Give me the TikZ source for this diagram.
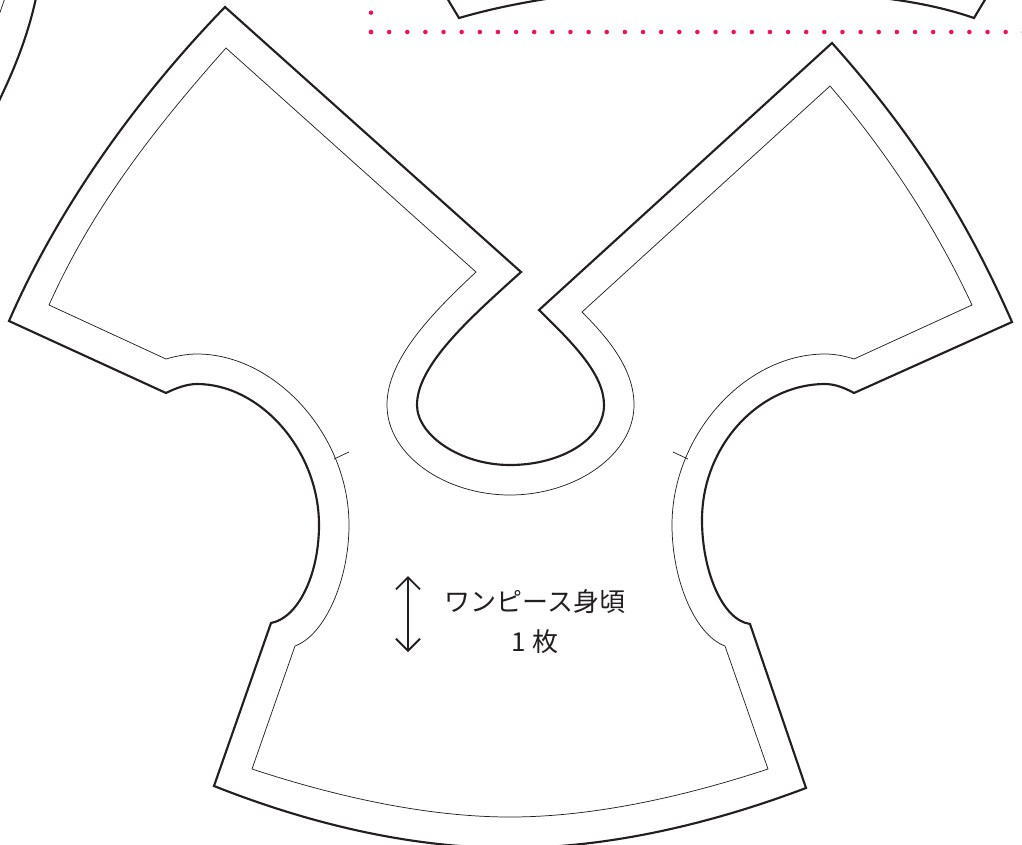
\documentclass[tikz,border=0pt]{standalone}
\usepackage{fontspec}
\newfontfamily\jpfont{Noto Sans CJK JP}
\usetikzlibrary{arrows.meta}
\definecolor{inkdark}{HTML}{231F20}
\definecolor{dotpink}{HTML}{EE0F5F}
\begin{document}
\begin{tikzpicture}[x=0.75pt,y=-0.75pt, every text node part/.style={align=center}]
        \tikzset{
          cutline/.style={draw=inkdark,line width=1.6pt,line join=miter},
          sewline/.style={draw=inkdark,line width=0.55pt},
          foldline/.style={draw=dotpink,line width=3.4pt,line cap=round},
          grainline/.style={draw=inkdark,line width=1.4pt,{Straight Barb[length=9pt,width=18pt]}-{Straight Barb[length=9pt,width=18pt]}},
          partlabel/.style={font=\jpfont\fontsize{19.5}{30}\selectfont,text=inkdark},
        }
        \useasboundingbox (0,0) rectangle (1022,844);
        \begin{scope}
        \clip (0,0) rectangle (1022,844);
        % neighbouring pieces
        \draw [cutline] (36,-2) .. controls (28,35) and (15,68) .. (-2,103);
        \draw [sewline] (5,-2) -- (-2,18);
        \draw [cutline] (447,-2) -- (459,18) .. controls (490,9) and (520,3) .. (552,-2);
        \draw [cutline] (986,-2) -- (974,18) .. controls (945,8) and (915,2) .. (882,-2);
        % fold box
        \draw [foldline,dash pattern=on 0pt off 14.5pt] (371,32) -- (371,-10);
        \draw [foldline,dash pattern=on 0pt off 13.6pt] (371,32) -- (1030,32);
        % cut outline
        \draw [cutline] (225,7) -- (521,272)
          .. controls (470,318) and (417,365) .. (417,405)
          .. controls (417,435) and (460,465) .. (510,465)
          .. controls (560,465) and (604,440) .. (604,405)
          .. controls (604,375) and (575,345) .. (539,310)
          -- (832,43)
          .. controls (910,130) and (965,215) .. (1012,322)
          -- (854,393)
          .. controls (845,388) and (835,384) .. (825,384)
          .. controls (760,384) and (702,445) .. (702,520)
          .. controls (702,570) and (722,620) .. (750,624)
          -- (806,788)
          .. controls (700,828) and (600,848) .. (510,848)
          .. controls (420,848) and (320,828) .. (214,786)
          -- (271,623)
          .. controls (298,618) and (319,575) .. (319,525)
          .. controls (319,450) and (260,384) .. (197,384)
          .. controls (187,384) and (176,388) .. (166,393)
          -- (9,321)
          .. controls (55,215) and (130,105) .. (225,7) -- cycle;
        % sewing line
        \draw [sewline] (226,48) -- (476,272)
          .. controls (430,315) and (387,360) .. (387,405)
          .. controls (387,455) and (445,495) .. (510,495)
          .. controls (575,495) and (634,455) .. (634,405)
          .. controls (634,370) and (610,340) .. (582,312)
          -- (830,86)
          .. controls (885,150) and (935,225) .. (972,305)
          -- (854,359)
          .. controls (845,356) and (835,354) .. (825,354)
          .. controls (745,354) and (672,435) .. (672,525)
          .. controls (672,580) and (695,635) .. (725,646)
          -- (768,769)
          .. controls (680,798) and (590,817) .. (510,817)
          .. controls (430,817) and (340,798) .. (252,769)
          -- (295,646)
          .. controls (325,635) and (349,580) .. (349,525)
          .. controls (349,435) and (275,354) .. (197,354)
          .. controls (187,354) and (176,356) .. (166,359)
          -- (49,305)
          .. controls (85,225) and (135,150) .. (226,48) -- cycle;
        \draw [sewline] (334,459) -- (349,452);
        \draw [sewline] (673,452) -- (688,459);
        \end{scope}
        % grain arrow and label
        \coordinate (graintop) at (408,576);
        \coordinate (grainbot) at (408,652);
        \draw [grainline] (graintop) -- (grainbot);
        \node [partlabel] (title) at (535,602) {ワンピース身頃};
        \node [partlabel] (count) at (535,642) {1 枚};
\end{tikzpicture}
\end{document}
